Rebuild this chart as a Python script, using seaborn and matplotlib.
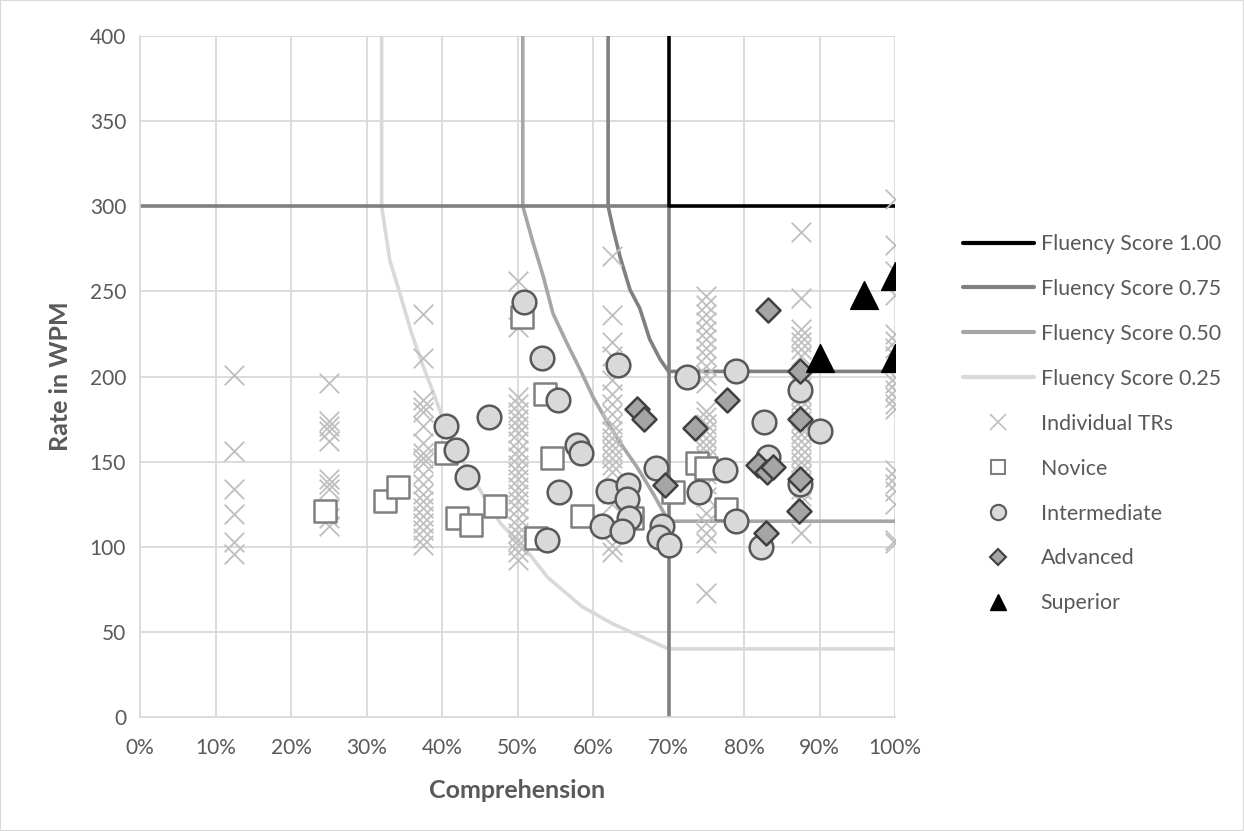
import matplotlib
matplotlib.use("Agg")
import matplotlib.pyplot as plt
import pandas as pd
import seaborn as sns
from matplotlib.lines import Line2D
from matplotlib.patches import Rectangle

# Individual TRs: comprehension level -> reading rates (WPM)
tr_levels = [12.5, 25, 37.5, 50, 62.5, 75, 87.5, 100]
tr_12 = [201, 156, 134, 119, 103, 96]
tr_25 = [196, 174, 171, 168, 162, 140, 137, 134, 122, 117, 112]
tr_37 = [237, 211, 186, 182, 179, 171, 161, 155, 152, 149, 143, 137, 131, 127, 123, 118, 114, 110, 105, 101]
tr_50 = [256, 229, 188, 184, 179, 175, 171, 167, 162, 157, 153, 148, 144, 140, 135, 131, 127, 122, 117, 112,
         108, 104, 101, 97, 92]
tr_62 = [271, 236, 220, 212, 198, 190, 184, 178, 172, 168, 164, 160, 156, 152, 148, 144, 131, 125, 101, 97]
tr_75 = [247, 242, 237, 232, 227, 222, 217, 212, 206, 201, 196, 180, 176, 172, 168, 164, 160, 156, 152, 148,
         143, 137, 129, 120, 114, 108, 102, 73]
tr_87 = [285, 246, 228, 224, 220, 216, 212, 198, 194, 190, 186, 182, 178, 174, 170, 166, 162, 158, 154, 150,
         146, 142, 138, 134, 130, 126, 108]
tr_100 = [304, 277, 262, 248, 225, 221, 217, 212, 200, 196, 192, 188, 184, 181, 145, 141, 137, 133, 125, 104, 102]
tr_rates = [tr_12, tr_25, tr_37, tr_50, tr_62, tr_75, tr_87, tr_100]

# proficiency groups
novice_comp = [24.5, 32.5, 34.2, 40.5, 42.0, 43.8, 47.0, 50.6, 53.6, 54.6, 52.4, 58.6, 65.1, 70.6, 73.8, 75.0, 77.6]
novice_wpm = [121, 127, 135, 155, 117, 113, 124, 235, 190, 152, 105, 118, 117, 132, 149, 146, 122]

inter_comp = [40.5, 41.9, 43.3, 46.2, 50.9, 53.2, 55.4, 57.9, 58.4, 55.5, 53.9, 63.3, 62.0, 64.7, 64.5, 64.8, 61.2,
              63.9, 68.4, 69.1, 68.7, 70.0, 72.5, 79.0, 82.6, 83.2, 77.5, 74.0, 79.0, 82.3, 87.4, 90.0, 87.4]
inter_wpm = [171, 157, 141, 176, 244, 211, 186, 160, 155, 132, 104, 207, 133, 136, 128, 117, 112,
             109, 146, 112, 106, 101, 200, 203, 173, 153, 145, 132, 115, 100, 192, 168, 137]

adv_comp = [65.8, 66.7, 69.6, 73.5, 77.8, 83.2, 81.9, 83.0, 83.9, 82.9, 87.4, 87.4, 87.4, 87.3]
adv_wpm = [181, 175, 136, 170, 186, 239, 148, 144, 147, 108, 203, 175, 140, 121]

sup_comp = [90.0, 95.9, 100, 100]
sup_wpm = [211, 248, 259, 211]

# fluency score boundaries
f100_x = [70, 70, 100]
f100_y = [400, 300, 300]
f75_x = [62, 62, 62.7, 63.6, 64.9, 66.2, 67.5, 68.9, 70, 100]
f75_y = [400, 300, 286, 270, 251, 240, 222, 210, 203, 203]
f50_x = [50.7, 50.7, 52.1, 53.4, 54.7, 56.5, 58.3, 60.0, 61.8, 63.6, 65.8, 68.0, 70, 100]
f50_y = [400, 300, 278, 259, 237, 220, 204, 188, 174, 161, 147, 131, 115, 115]
f25_x = [32, 32, 33.1, 34.4, 36.0, 37.5, 38.9, 40.2, 41.9, 43.7, 45.9, 47.7, 51.7, 54.0, 58.5, 62.5, 66.5, 70, 100]
f25_y = [400, 300, 268, 249, 225, 206, 190, 174, 157, 143, 127, 114, 95, 82, 65, 55, 47, 40, 40]
# 300 WPM / 70% threshold lines
ref_h_x = [0, 70]
ref_h_y = [300, 300]
ref_v_x = [70, 70]
ref_v_y = [300, 0]

tr_df = pd.DataFrame({
    "comp": [lvl for lvl, rates in zip(tr_levels, tr_rates) for _ in rates],
    "wpm": [r for rates in tr_rates for r in rates],
})

sns.set_theme(style="whitegrid")
plt.rcParams["font.family"] = ["Lato", "DejaVu Sans"]
text_col = "#595959"

fig = plt.figure(figsize=(12.44, 8.31), dpi=100)
ax = fig.add_axes([140 / 1244, 1 - 717 / 831, 755 / 1244, 681 / 831])

c100, c75, c50, c25 = "black", "#808080", "#a6a6a6", "#d9d9d9"
lw = 2.6
for xs, ys, col in [(f25_x, f25_y, c25), (f50_x, f50_y, c50), (ref_h_x, ref_h_y, c75),
                    (ref_v_x, ref_v_y, c75), (f75_x, f75_y, c75), (f100_x, f100_y, c100)]:
    sns.lineplot(x=xs, y=ys, sort=False, estimator=None, color=col, linewidth=lw, ax=ax,
                 zorder=2, solid_joinstyle="round", solid_capstyle="butt")

# markers
sns.scatterplot(data=tr_df, x="comp", y="wpm", marker="x", s=200, color="#bfbfbf", linewidth=1.3, ax=ax, zorder=3)
sns.scatterplot(x=novice_comp, y=novice_wpm, marker="s", s=250, color="white", edgecolor="#7f7f7f",
                linewidth=1.8, ax=ax, zorder=4)
sns.scatterplot(x=inter_comp, y=inter_wpm, marker="o", s=290, color="#d9d9d9", edgecolor="#595959",
                linewidth=1.8, ax=ax, zorder=5)
sns.scatterplot(x=adv_comp, y=adv_wpm, marker="D", s=150, color="#a5a5a5", edgecolor="#404040",
                linewidth=1.8, ax=ax, zorder=6)
sns.scatterplot(x=sup_comp, y=sup_wpm, marker="^", s=400, color="black", edgecolor="black",
                linewidth=1, ax=ax, zorder=7)

ax.set_xlim(0, 100)
ax.set_ylim(0, 400)
ax.set_xticks(range(0, 101, 10))
ax.set_xticklabels([f"{v}%" for v in range(0, 101, 10)])
ax.set_yticks(range(0, 401, 50))
ax.grid(True, color="#d9d9d9", linewidth=1.3)
ax.set_axisbelow(True)
for sp in ax.spines.values():
    sp.set_visible(False)
ax.spines["bottom"].set_visible(True)
ax.spines["bottom"].set_color("#d9d9d9")
ax.spines["left"].set_visible(True)
ax.spines["left"].set_color("#d9d9d9")
ax.tick_params(axis="both", length=0, labelsize=15, labelcolor=text_col)
ax.tick_params(axis="x", pad=15)
ax.tick_params(axis="y", pad=10)
ax.set_xlabel("Comprehension", fontsize=18, fontweight="bold", color=text_col, labelpad=15)
ax.set_ylabel("Rate in WPM", fontsize=18, fontweight="bold", color=text_col, labelpad=12.5)

handles = [
    Line2D([], [], color=c100, lw=3),
    Line2D([], [], color=c75, lw=3),
    Line2D([], [], color=c50, lw=3),
    Line2D([], [], color=c25, lw=3),
    Line2D([], [], marker="x", ls="none", color="#bfbfbf", markersize=11, markeredgewidth=1.2),
    Line2D([], [], marker="s", ls="none", markerfacecolor="white", markeredgecolor="#7f7f7f",
           markersize=10.5, markeredgewidth=1.5),
    Line2D([], [], marker="o", ls="none", markerfacecolor="#d9d9d9", markeredgecolor="#595959",
           markersize=11, markeredgewidth=1.5),
    Line2D([], [], marker="D", ls="none", markerfacecolor="#a5a5a5", markeredgecolor="#404040",
           markersize=8, markeredgewidth=1.5),
    Line2D([], [], marker="^", ls="none", color="black", markersize=11),
]
labels = ["Fluency Score 1.00", "Fluency Score 0.75", "Fluency Score 0.50", "Fluency Score 0.25",
          "Individual TRs", "Novice", "Intermediate", "Advanced", "Superior"]
leg = fig.legend(handles, labels, loc="upper left", bbox_to_anchor=(963 / 1244, 1 - 234 / 831),
                 frameon=False, fontsize=15.4, handlelength=3.3, handletextpad=0.33,
                 labelspacing=1.165, borderpad=0, borderaxespad=0)
for t in leg.get_texts():
    t.set_color(text_col)

fig.patches.append(Rectangle((0, 0), 1, 1, transform=fig.transFigure, fill=False,
                             edgecolor="#d9d9d9", linewidth=1.5))

fig.savefig("out.png", dpi=100)
